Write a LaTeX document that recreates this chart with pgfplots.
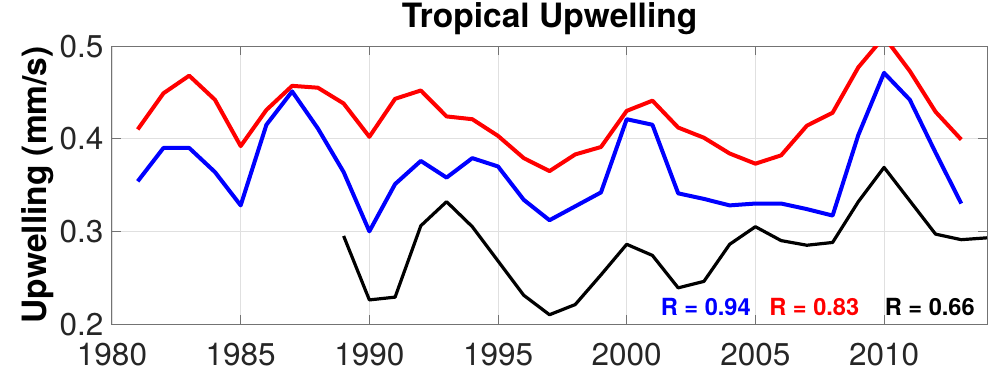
\documentclass[border=0pt]{standalone}
\usepackage{fontspec}
\setmainfont{TeX Gyre Heros}
\usepackage{pgfplots}
\pgfplotsset{compat=1.18}
\definecolor{axgray}{RGB}{38,38,38}
\begin{document}
\begin{tikzpicture}
\begin{axis}[
  scale only axis, width=875pt, height=278pt,
  xmin=1980, xmax=2014, ymin=0.2, ymax=0.5,
  xtick={1980,1985,...,2010}, ytick={0.2,0.3,0.4,0.5},
  /pgf/number format/assume math mode=true,
  /pgf/number format/1000 sep={},
  tick label style={font=\fontsize{31.5}{36}\selectfont, text=axgray, inner sep=1pt, text depth=0pt},
  xticklabel style={yshift=-17.5pt},
  yticklabel style={xshift=-7.5pt},
  tick align=inside, major tick length=9pt,
  grid=major, major grid style={color=black!12, line width=0.8pt},
  axis line style={color=black!55, line width=1pt},
  tick style={color=black!55, line width=1pt},
  title={Tropical Upwelling},
  title style={font=\fontsize{33.5}{38}\selectfont\bfseries, at={(0.5,1)}, anchor=base, inner sep=0pt, yshift=13pt},
  ylabel={Upwelling (mm/s)},
  ylabel style={font=\fontsize{33.5}{38}\selectfont\bfseries, at={(rel axis cs:0,0.5)}, anchor=base, inner sep=0pt, yshift=65pt},
  every axis plot/.append style={line join=round, mark=none},
]
\addplot[red, line width=4pt] coordinates {
(1981,0.410)(1982,0.449)(1983,0.468)(1984,0.442)(1985,0.392)(1986,0.431)(1987,0.457)(1988,0.455)(1989,0.438)(1990,0.402)
(1991,0.443)(1992,0.452)(1993,0.424)(1994,0.421)(1995,0.403)(1996,0.379)(1997,0.365)(1998,0.383)(1999,0.391)(2000,0.430)
(2001,0.441)(2002,0.412)(2003,0.401)(2004,0.384)(2005,0.373)(2006,0.382)(2007,0.414)(2008,0.428)(2009,0.477)(2010,0.510)
(2011,0.473)(2012,0.429)(2013,0.399)};
\addplot[blue, line width=4pt] coordinates {
(1981,0.354)(1982,0.390)(1983,0.390)(1984,0.364)(1985,0.328)(1986,0.415)(1987,0.451)(1988,0.411)(1989,0.364)(1990,0.300)
(1991,0.351)(1992,0.376)(1993,0.358)(1994,0.379)(1995,0.370)(1996,0.334)(1997,0.312)(1998,0.327)(1999,0.342)(2000,0.421)
(2001,0.415)(2002,0.341)(2003,0.335)(2004,0.328)(2005,0.330)(2006,0.330)(2007,0.324)(2008,0.317)(2009,0.404)(2010,0.471)
(2011,0.442)(2012,0.385)(2013,0.330)};
\addplot[black, line width=3.2pt] coordinates {
(1989,0.295)(1990,0.226)(1991,0.229)(1992,0.306)(1993,0.332)(1994,0.305)(1995,0.268)(1996,0.231)(1997,0.210)(1998,0.221)
(1999,0.253)(2000,0.286)(2001,0.274)(2002,0.239)(2003,0.246)(2004,0.286)(2005,0.305)(2006,0.290)(2007,0.285)(2008,0.288)
(2009,0.332)(2010,0.369)(2011,0.333)(2012,0.297)(2013,0.291)(2014,0.293)};
\node[anchor=base west, inner sep=0pt, text=blue, font=\fontsize{23.6}{28}\selectfont\bfseries] at (axis description cs:0.627,0.032) {R = 0.94};
\node[anchor=base west, inner sep=0pt, text=red, font=\fontsize{23.6}{28}\selectfont\bfseries] at (axis description cs:0.751,0.032) {R = 0.83};
\node[anchor=base west, inner sep=0pt, text=black, font=\fontsize{23.6}{28}\selectfont\bfseries] at (axis description cs:0.883,0.032) {R = 0.66};
\end{axis}
\path ([shift={(-112pt,-44pt)}]current axis.south west) rectangle ([shift={(10pt,46pt)}]current axis.north east);
\end{tikzpicture}
\end{document}
